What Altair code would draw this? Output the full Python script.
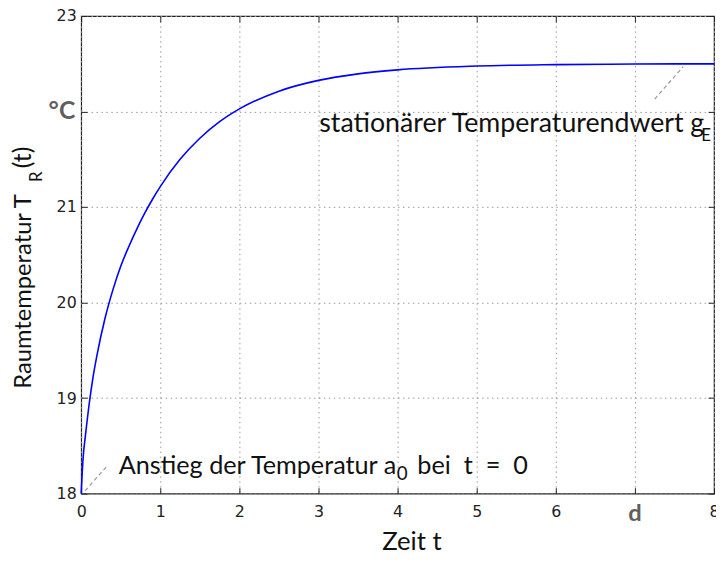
import altair as alt
import pandas as pd

# Curve
t_vals = [0.0, 0.015, 0.03, 0.05, 0.1, 0.15, 0.2, 0.3, 0.4, 0.5, 0.6, 0.7, 0.8, 0.9, 1.0,
          1.25, 1.5, 1.75, 2.0, 2.5, 3.0, 3.5, 4.0, 5.0, 6.0, 7.0, 8.0]
temp_vals = [18.0, 18.25, 18.43, 18.58, 18.93, 19.22, 19.45, 19.83, 20.13, 20.38, 20.582,
             20.764, 20.930, 21.079, 21.214, 21.499, 21.720, 21.893, 22.027, 22.213,
             22.326, 22.394, 22.436, 22.476, 22.491, 22.497, 22.499]

x_ticks = [0, 1, 2, 3, 4, 5, 6, 7, 8]
y_ticks = [18, 19, 20, 21, 22, 23]
x_special = [7]
x_special_text = ["d"]
y_special = [22]
y_special_text = ["°C"]

# dashed leader lines (t, T)
lead_t = [0.05, 0.34, 7.25, 7.61]
lead_T = [18.03, 18.30, 22.13, 22.47]
lead_grp = ["a", "a", "b", "b"]

curve_df = pd.DataFrame({"t": t_vals, "T": temp_vals})
lead_df = pd.DataFrame({"t": lead_t, "T": lead_T, "g": lead_grp})

xscale = alt.Scale(domain=[0, 8], nice=False, zero=False)
yscale = alt.Scale(domain=[18, 23], nice=False, zero=False)

TXT = "Lato"
NUM = "DejaVu Sans"

x_axis = alt.Axis(
    values=x_ticks,
    labelExpr="datum.value == 7 ? '' : datum.label",
    labelFont=NUM, labelFontSize=16, labelColor="#222222",
    labelPadding=16,
    labelFlush=False,
    grid=True, gridDash=[1.5, 3.5], gridColor="#999999", gridWidth=1,
    domain=False,
    tickSize=alt.ExprRef("-6"), tickColor="#222222",
    title="Zeit t", titleFont=TXT, titleFontSize=26, titleFontWeight="normal",
    titleColor="#111111", titleX=334, titleY=57, titleBaseline="alphabetic",
    titleAlign="center",
)
y_axis = alt.Axis(
    values=y_ticks,
    labelExpr="datum.value == 22 ? '' : datum.label",
    labelFont=NUM, labelFontSize=16, labelColor="#222222",
    labelPadding=11,
    labelFlush=False,
    grid=True, gridDash=[1.5, 3.5], gridColor="#999999", gridWidth=1,
    domain=False,
    tickSize=alt.ExprRef("-6"), tickColor="#222222",
    title=None,
)

curve = alt.Chart(curve_df).mark_line(color="#0000ff", strokeWidth=1.6, interpolate="monotone").encode(
    x=alt.X("t:Q", scale=xscale, axis=x_axis),
    y=alt.Y("T:Q", scale=yscale, axis=y_axis),
)

top_axis = alt.Axis(orient="top", values=x_ticks, labels=False, grid=False, domain=False,
                    tickSize=alt.ExprRef("-6"), tickColor="#222222", title=None)
right_axis = alt.Axis(orient="right", values=y_ticks, labels=False, grid=False, domain=False,
                      tickSize=alt.ExprRef("-6"), tickColor="#222222", title=None)

leads = alt.Chart(lead_df).mark_line(color="#999999", strokeWidth=1.2, strokeDash=[4, 3]).encode(
    x=alt.X("t:Q", scale=xscale, axis=top_axis),
    y=alt.Y("T:Q", scale=yscale, axis=right_axis),
    detail="g:N",
)

# special tick labels drawn at their tick positions
d_label = alt.Chart(pd.DataFrame({"v": x_special, "s": x_special_text})).mark_text(
    font=TXT, fontSize=24, fontWeight="bold", color="#5f5f5f", baseline="top"
).encode(x=alt.X("v:Q", scale=xscale, axis=None), y=alt.value(492), text="s:N")

c_label = alt.Chart(pd.DataFrame({"v": y_special, "s": y_special_text})).mark_text(
    font=TXT, fontSize=25, fontWeight="bold", color="#5f5f5f", align="right", baseline="middle"
).encode(y=alt.Y("v:Q", scale=yscale, axis=None), x=alt.value(-6), text="s:N")


def txt(text, t, T, size, align="left", baseline="alphabetic"):
    return alt.Chart().mark_text(text=text, font=TXT, fontSize=size, align=align,
                                 baseline=baseline, color="#111111").encode(
        x=alt.XDatum(t, scale=xscale, axis=None),
        y=alt.YDatum(T, scale=yscale, axis=None))

NB = "\u00a0"
ann = [
    txt("Anstieg der Temperatur a", 0.475, 18.20, 25.5),
    txt("0", 3.99, 18.145, 19),
    txt("bei" + NB * 2 + "t" + NB * 2 + "=" + NB * 2 + "0", 4.25, 18.20, 25.5),
    txt("stationärer Temperaturendwert g", 3.01, 21.79, 27),
    txt("E", 7.84, 21.69, 17),
]

def ytitle(text, x, y, size):
    return alt.Chart().mark_text(text=text, font=TXT, fontSize=size, align="left",
                                 baseline="alphabetic", angle=270, color="#111111").encode(
        x=alt.value(x), y=alt.value(y))

ytit = [
    ytitle("Raumtemperatur T", -51, 377, 24),
    ytitle("R", -40, 168, 17),
    ytitle("(t)", -51, 154, 25),
]

chart = alt.layer(curve, leads, d_label, c_label, *ann, *ytit).resolve_axis(
    x="independent", y="independent"
).properties(
    width=640, height=483,
    autosize=alt.AutoSizeParams(type="none"),
    padding={"left": 74, "top": 5, "right": 2, "bottom": 58},
).configure_view(stroke="#222222", strokeWidth=1.2)

chart.save("out.html", embed_options={"renderer": "svg", "actions": False})
